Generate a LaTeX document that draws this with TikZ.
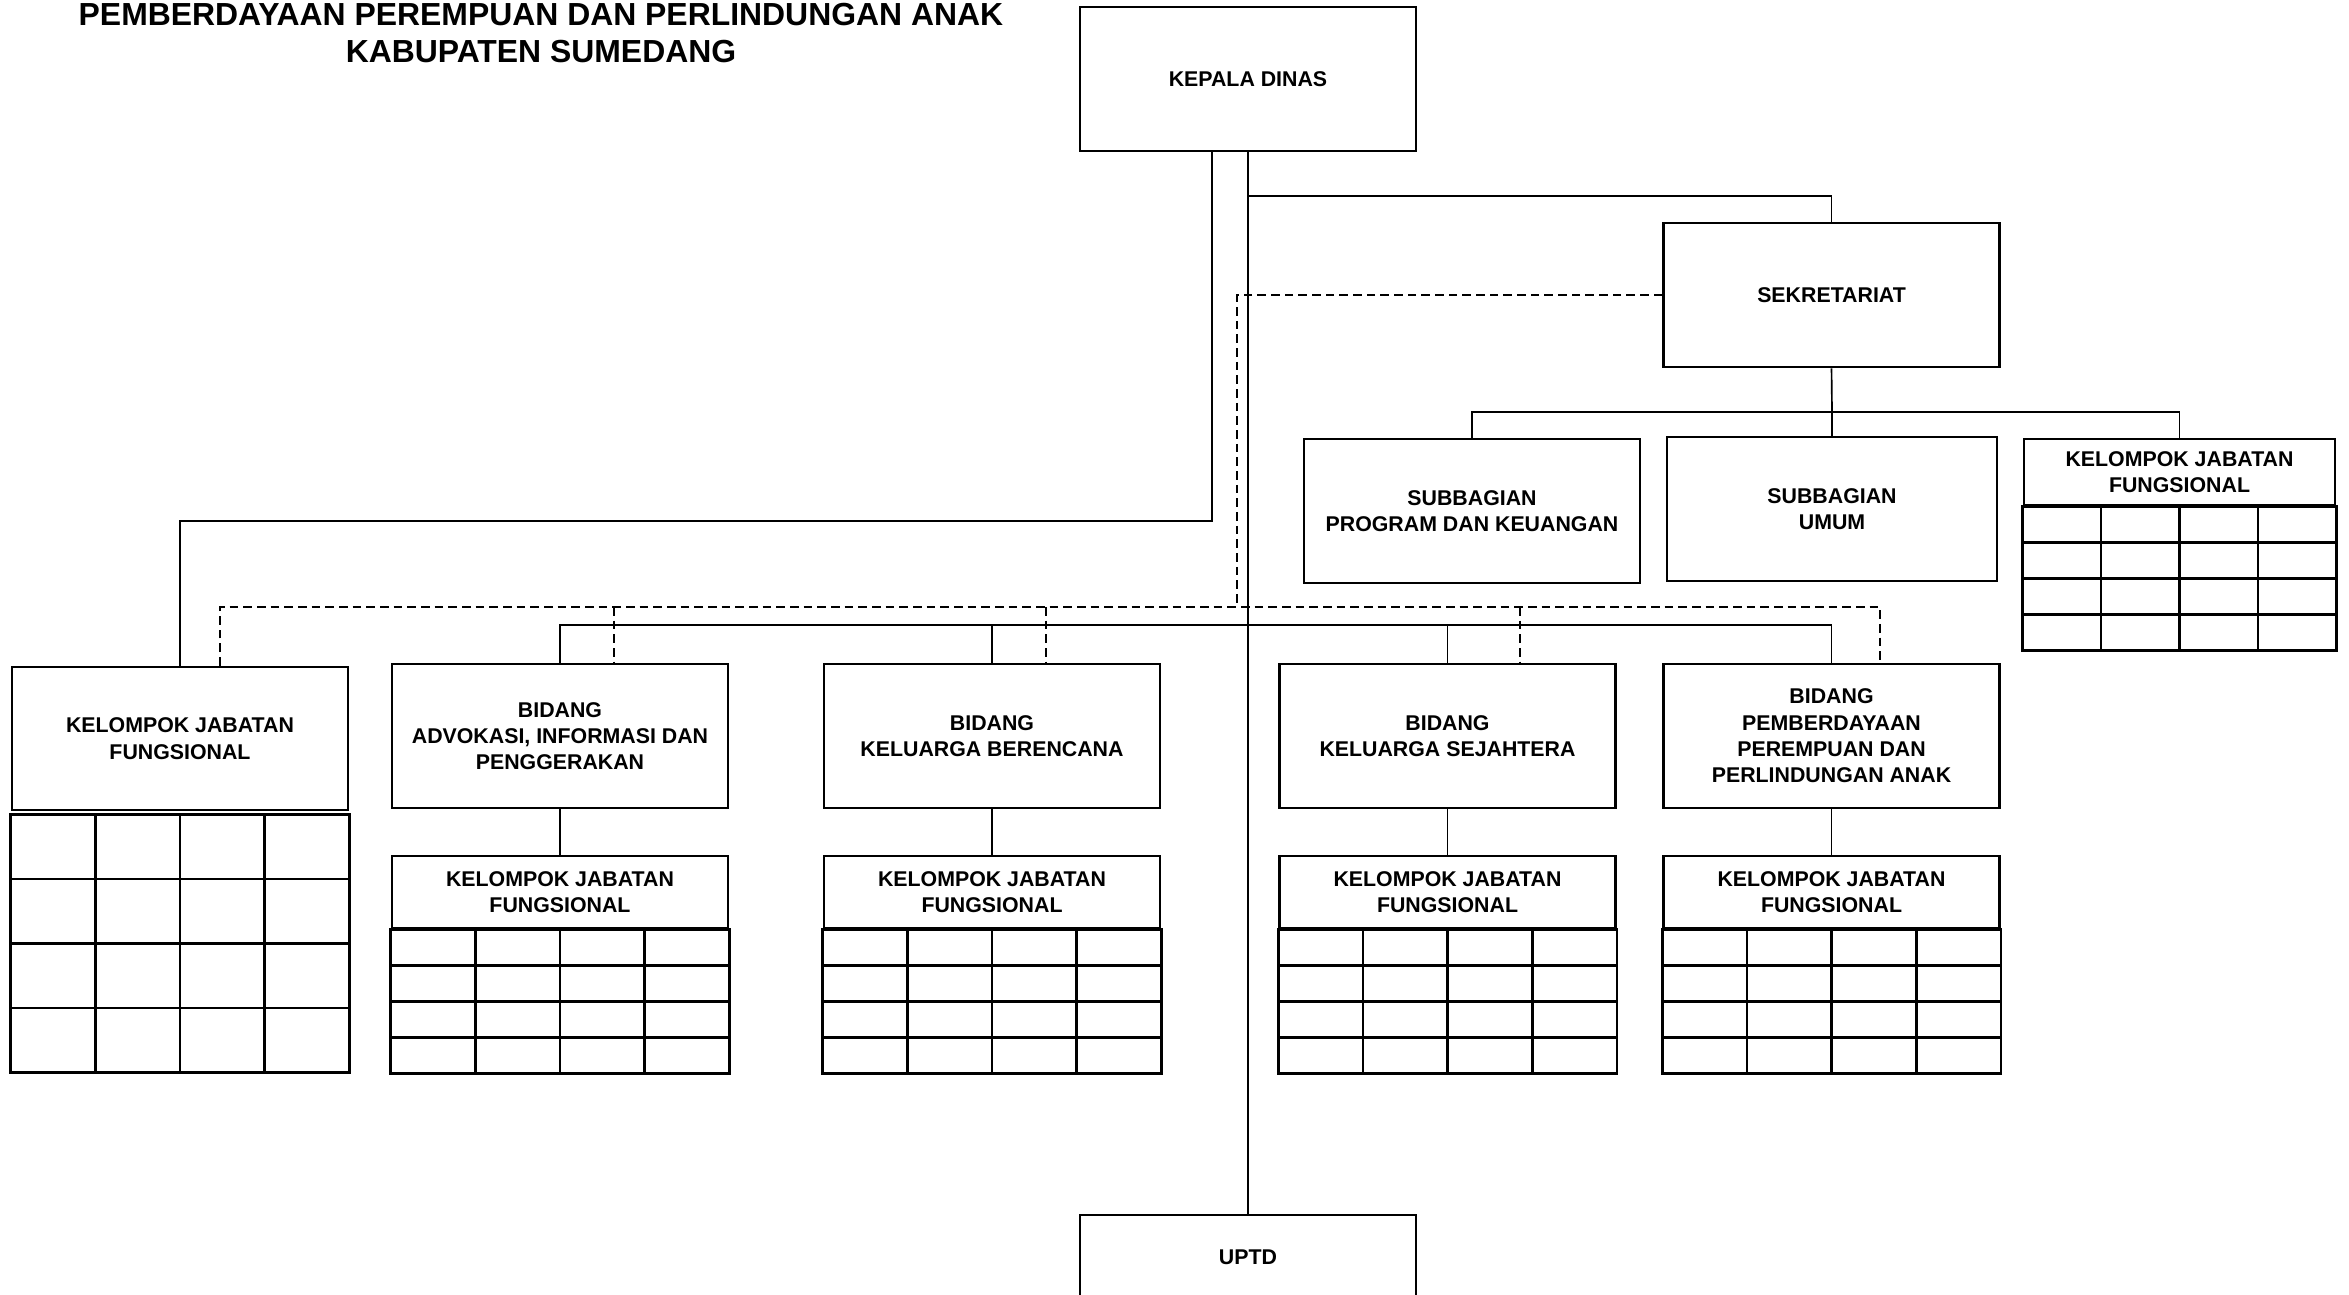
\documentclass[tikz,border=0pt]{standalone}
\usepackage{fontspec}
\setmainfont{Liberation Sans}
\usetikzlibrary{calc}

\tikzset{
  unitbox/.style={draw, line width=0.8pt, align=center, inner sep=0pt,
    font=\fontsize{6.4pt}{7.9pt}\selectfont\bfseries,
    minimum width=100.8pt, minimum height=43.2pt},
  link/.style={line width=0.5pt},
  dashlink/.style={line width=0.5pt, dash pattern=on 2.6pt off 1.5pt},
  gridline/.style={line width=0.8pt}
}

\newcommand{\jfgrid}[3]{%
  \draw[gridline] ($(#1.south west)+(0,#3)$) rectangle ($(#1.south east)+(0,#3+4*#2)$);
  \foreach \r in {1,2,3}
    \draw[gridline] ($(#1.south west)+(0,#3+\r*#2)$) -- ($(#1.south east)+(0,#3+\r*#2)$);
  \foreach \c in {1,2,3}
    \draw[gridline] ($(#1.south west)!\c/4!(#1.south east)+(0,#3)$) -- ($(#1.south west)!\c/4!(#1.south east)+(0,#3+4*#2)$);
}

\begin{document}
\begin{tikzpicture}[x=0.3pt,y=-0.3pt]
    \useasboundingbox (0,0) rectangle (2349,1295);
    \node (title) [anchor=north, align=center, inner sep=0pt,
      font=\fontsize{9.57pt}{11.1pt}\selectfont\bfseries] at (541,3)
      {PEMBERDAYAAN PEREMPUAN DAN PERLINDUNGAN ANAK\\KABUPATEN SUMEDANG};

    \node (kd) [unitbox] at (1248,79) {KEPALA DINAS};
    \node (sek) [unitbox] at (1831.5,295) {SEKRETARIAT};
    \node (spk) [unitbox] at (1472,511) {SUBBAGIAN\\PROGRAM DAN KEUANGAN};
    \node (su) [unitbox, minimum width=99pt] at (1832,509) {SUBBAGIAN\\UMUM};
    \node (jf-sek) [unitbox, minimum width=93.3pt, minimum height=19.8pt] at (2179.5,472) {KELOMPOK JABATAN\\FUNGSIONAL};

    \node (jf-kd) [unitbox, minimum height=42.9pt] at (180,738.5) {KELOMPOK JABATAN\\FUNGSIONAL};
    \node (adv) [unitbox] at (560,736) {BIDANG\\ADVOKASI, INFORMASI DAN\\PENGGERAKAN};
    \node (kb) [unitbox] at (992,736) {BIDANG\\KELUARGA BERENCANA};
    \node (ks) [unitbox] at (1447.5,736) {BIDANG\\KELUARGA SEJAHTERA};
    \node (pppa) [unitbox] at (1831.5,736) {BIDANG\\PEMBERDAYAAN\\PEREMPUAN DAN\\PERLINDUNGAN ANAK};

    \foreach \n/\x in {adv/560,kb/992,ks/1447.5,pppa/1831.5}
      \node (jf-\n) [unitbox, minimum height=21.6pt] at (\x,892) {KELOMPOK JABATAN\\FUNGSIONAL};

    \node (uptd) [unitbox, minimum height=25.2pt] at (1248,1257) {UPTD};

    \jfgrid{jf-sek}{36}{0}
    \jfgrid{jf-kd}{64.5}{3}
    \foreach \n in {adv,kb,ks,pppa} {
      \jfgrid{jf-\n}{36}{0}
    }

    \draw[link] (kd.south) -- (uptd.north);
    \draw[link] (kd.south |- 0,196) -| (sek.north);
    \draw[link] (1212,0 |- kd.south) -- (1212,521) -| (jf-kd.north);

    \coordinate (sbus) at (1832,412);
    \draw[link] (sek.south) -- (sbus);
    \draw[link] (spk.north) |- (sbus) -| (jf-sek.north);
    \draw[link] (su.north) -- (su.north |- sbus);

    \draw[link] (adv.north) |- (pppa.north |- 0,625) -- (pppa.north);
    \foreach \n in {kb,ks}
      \draw[link] (\n.north) -- (\n.north |- 0,625);
    \foreach \n in {adv,kb,ks,pppa}
      \draw[link] (\n.south) -- (jf-\n.north);

    \draw[dashlink] (sek.west) -| (1237,607);
    \draw[dashlink] (jf-kd.north -| 220,0) |- (1880,607) -- (pppa.north -| 1880,0);
    \foreach \x/\n in {614/adv,1046/kb,1520/ks}
      \draw[dashlink] (\x,607) -- (\n.north -| \x,0);
\end{tikzpicture}
\end{document}
